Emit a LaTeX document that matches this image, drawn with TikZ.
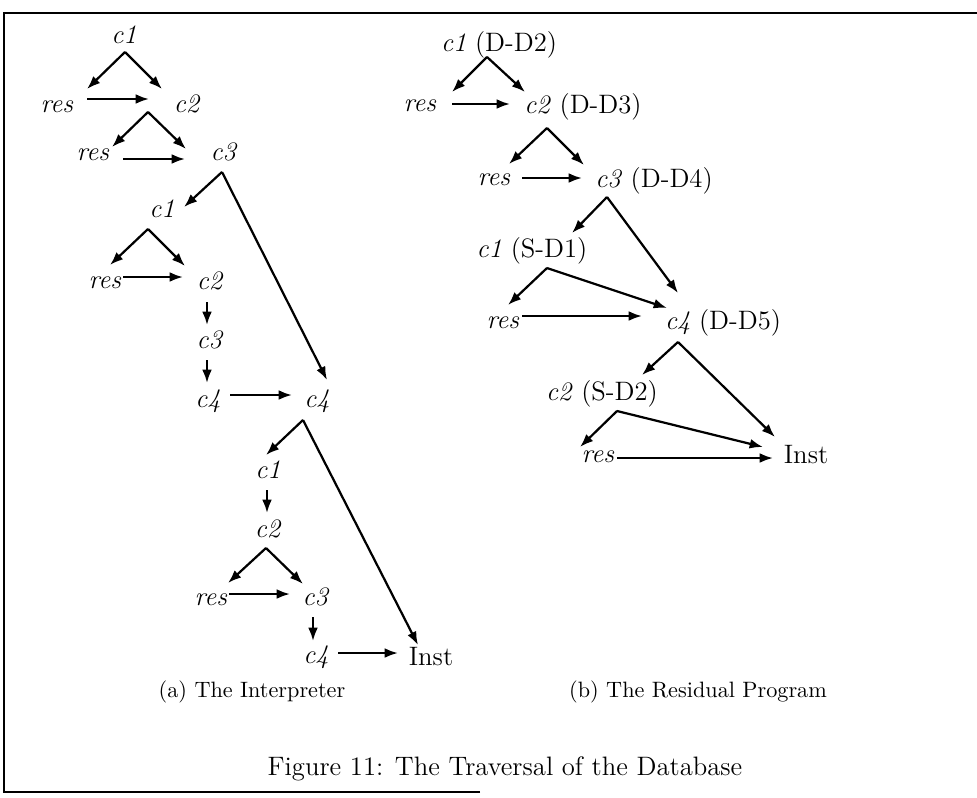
\documentclass[tikz,border=0pt,12pt]{standalone}
\usepackage{tikz}
\usetikzlibrary{arrows.meta}

\begin{document}
\begin{tikzpicture}[
  x=0.45pt, y=-0.45pt,
  lab/.style={anchor=base, inner sep=0pt},
  arr/.style={-{Latex[length=6pt,width=4.4pt]}, line width=1pt},
  sublab/.style={anchor=base, font=\footnotesize},
  frameline/.style={line width=1.2pt}
]
\useasboundingbox (0,0) rectangle (977,797);

\draw[frameline] (480,792) -- (4,792) -- (4,13) -- (977,13);

\node[lab] (aC1)  at (124,43)  {\textit{c1}};
\node[lab] (aR1)  at (57,112)  {\textit{res}};
\node[lab] (aC2)  at (187,112) {\textit{c2}};
\node[lab] (aR2)  at (93,160)  {\textit{res}};
\node[lab] (aC3)  at (224,160) {\textit{c3}};
\node[lab] (aC1b) at (162,217) {\textit{c1}};
\node[lab] (aR3)  at (105,288) {\textit{res}};
\node[lab] (aC2b) at (210,289) {\textit{c2}};
\node[lab] (aC3b) at (210,348) {\textit{c3}};
\node[lab] (aC4a) at (208,407) {\textit{c4}};
\node[lab] (aC4b) at (317,407) {\textit{c4}};
\node[lab] (aC1c) at (268,478) {\textit{c1}};
\node[lab] (aC2c) at (268,537) {\textit{c2}};
\node[lab] (aR4)  at (211,605) {\textit{res}};
\node[lab] (aC3c) at (316,605) {\textit{c3}};
\node[lab] (aC4c) at (316,663) {\textit{c4}};
\node[lab] (aInst) at (431,665) {Inst};

\draw[arr] ([shift={(1,9)}]aC1.base) -- ([shift={(30,-23)}]aR1.base);
\draw[arr] ([shift={(1,9)}]aC1.base) -- ([shift={(-25,-23)}]aC2.base);
\draw[arr] ([shift={(30,-13)}]aR1.base) -- ([shift={(-38,-13)}]aC2.base);
\draw[arr] ([shift={(-39,0)}]aC2.base) -- ([shift={(19,-13)}]aR2.base);
\draw[arr] ([shift={(-39,0)}]aC2.base) -- ([shift={(-38,-11)}]aC3.base);
\draw[arr] ([shift={(30,-1)}]aR2.base) -- ([shift={(-39,-1)}]aC3.base);
\draw[arr] ([shift={(-2,12)}]aC3.base) -- ([shift={(22,-10)}]aC1b.base);
\draw[arr] ([shift={(-2,12)}]aC3.base) -- ([shift={(10,-27)}]aC4b.base);
\draw[arr] ([shift={(-14,12)}]aC1b.base) -- ([shift={(5,-23)}]aR3.base);
\draw[arr] ([shift={(-14,12)}]aC1b.base) -- ([shift={(-25,-23)}]aC2b.base);
\draw[arr] ([shift={(18,-11)}]aR3.base) -- ([shift={(-27,-12)}]aC2b.base);
\draw[arr] ([shift={(-3,13)}]aC2b.base) -- ([shift={(-3,-23)}]aC3b.base);
\draw[arr] ([shift={(-3,12)}]aC3b.base) -- ([shift={(-1,-24)}]aC4a.base);
\draw[arr] ([shift={(22,-12)}]aC4a.base) -- ([shift={(-25,-12)}]aC4b.base);
\draw[arr] ([shift={(-14,13)}]aC4b.base) -- ([shift={(-2,-23)}]aC1c.base);
\draw[arr] ([shift={(-14,13)}]aC4b.base) -- ([shift={(-13,-20)}]aInst.base);
\draw[arr] ([shift={(-1,12)}]aC1c.base) -- ([shift={(-1,-24)}]aC2c.base);
\draw[arr] ([shift={(-2,11)}]aC2c.base) -- ([shift={(17,-22)}]aR4.base);
\draw[arr] ([shift={(-2,11)}]aC2c.base) -- ([shift={(-13,-21)}]aC3c.base);
\draw[arr] ([shift={(18,-11)}]aR4.base) -- ([shift={(-26,-11)}]aC3c.base);
\draw[arr] ([shift={(-3,12)}]aC3c.base) -- ([shift={(-3,-22)}]aC4c.base);
\draw[arr] ([shift={(22,-10)}]aC4c.base) -- ([shift={(-33,-12)}]aInst.base);

\node[lab] (bC1)  at (499,51)  {\textit{c1} (D-D2)};
\node[lab] (bR1)  at (420,111) {\textit{res}};
\node[lab] (bC2)  at (583,113) {\textit{c2} (D-D3)};
\node[lab] (bR2)  at (494,185) {\textit{res}};
\node[lab] (bC3)  at (654,187) {\textit{c3} (D-D4)};
\node[lab] (bC1b) at (532,257) {\textit{c1} (S-D1)};
\node[lab] (bR3)  at (503,328) {\textit{res}};
\node[lab] (bC4)  at (723,329) {\textit{c4} (D-D5)};
\node[lab] (bC2b) at (602,400) {\textit{c2} (S-D2)};
\node[lab] (bR4)  at (598,462) {\textit{res}};
\node[lab] (bInst) at (806,463) {Inst};

\draw[arr] ([shift={(-12,6)}]bC1.base) -- ([shift={(32,-19)}]bR1.base);
\draw[arr] ([shift={(-12,6)}]bC1.base) -- ([shift={(-58,-21)}]bC2.base);
\draw[arr] ([shift={(32,-7)}]bR1.base) -- ([shift={(-73,-9)}]bC2.base);
\draw[arr] ([shift={(-36,15)}]bC2.base) -- ([shift={(15,-21)}]bR2.base);
\draw[arr] ([shift={(-36,15)}]bC2.base) -- ([shift={(-70,-22)}]bC3.base);
\draw[arr] ([shift={(28,-7)}]bR2.base) -- ([shift={(-72,-9)}]bC3.base);
\draw[arr] ([shift={(-47,10)}]bC3.base) -- ([shift={(40,-24)}]bC1b.base);
\draw[arr] ([shift={(-47,10)}]bC3.base) -- ([shift={(-45,-36)}]bC4.base);
\draw[arr] ([shift={(15,11)}]bC1b.base) -- ([shift={(5,-23)}]bR3.base);
\draw[arr] ([shift={(15,11)}]bC1b.base) -- ([shift={(-56,-21)}]bC4.base);
\draw[arr] ([shift={(19,-12)}]bR3.base) -- ([shift={(-81,-13)}]bC4.base);
\draw[arr] ([shift={(-45,13)}]bC4.base) -- ([shift={(40,-25)}]bC2b.base);
\draw[arr] ([shift={(-45,13)}]bC4.base) -- ([shift={(-31,-26)}]bInst.base);
\draw[arr] ([shift={(15,11)}]bC2b.base) -- ([shift={(-18,-15)}]bR4.base);
\draw[arr] ([shift={(15,11)}]bC2b.base) -- ([shift={(-43,-16)}]bInst.base);
\draw[arr] ([shift={(19,-4)}]bR4.base) -- ([shift={(-33,-5)}]bInst.base);

\node[sublab] (capA) at (252,697) {(a) The Interpreter};
\node[sublab] (capB) at (698,697) {(b) The Residual Program};
\node[lab] (capFig) at (505,775) {Figure 11: The Traversal of the Database};

\end{tikzpicture}
\end{document}
